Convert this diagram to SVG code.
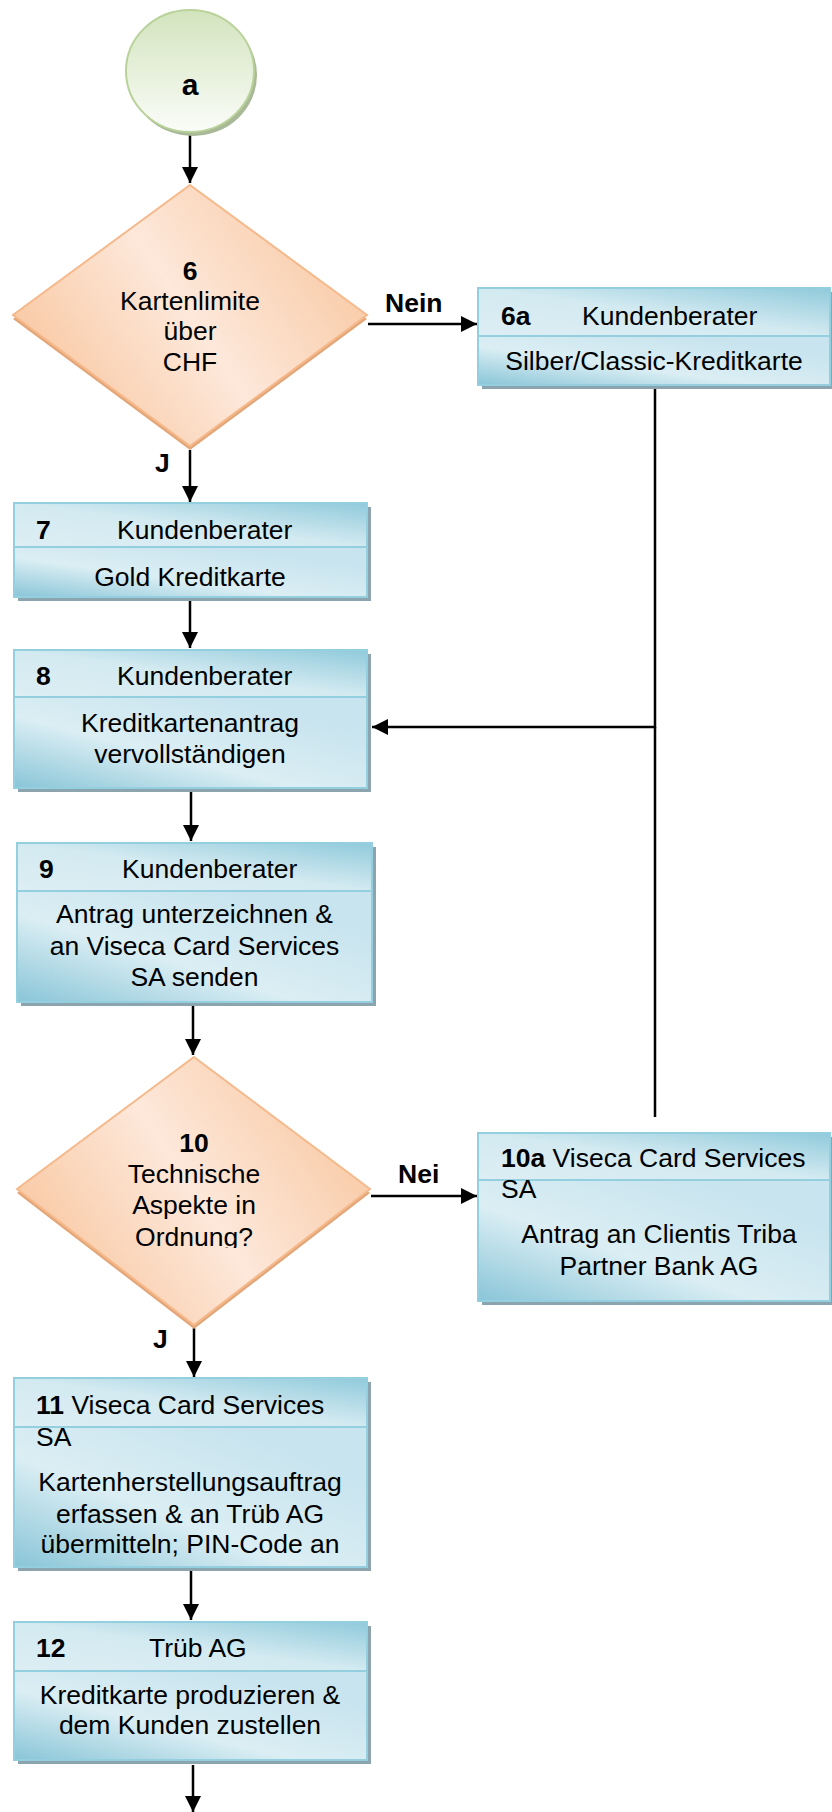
<svg xmlns="http://www.w3.org/2000/svg" width="832" height="1812" viewBox="0 0 832 1812">
<defs>
  <linearGradient id="gCircle" x1="0" y1="0" x2="0" y2="1">
    <stop offset="0" stop-color="#d2e4bd"/>
    <stop offset="1" stop-color="#fbfcf9"/>
  </linearGradient>
  <linearGradient id="gDiamond" x1="0" y1="0.75" x2="1" y2="0.25">
    <stop offset="0" stop-color="#f8c49b"/>
    <stop offset="0.5" stop-color="#fde8da"/>
    <stop offset="1" stop-color="#f8c7a0"/>
  </linearGradient>
  <linearGradient id="gHead" x1="0" y1="1" x2="1" y2="0">
    <stop offset="0" stop-color="#ddeef4"/>
    <stop offset="0.5" stop-color="#d3eaf1"/>
    <stop offset="1" stop-color="#90cadb"/>
  </linearGradient>
  <linearGradient id="gBody" x1="0" y1="1" x2="0.8" y2="0.2">
    <stop offset="0" stop-color="#89c5d7"/>
    <stop offset="0.5" stop-color="#dbeef4"/>
    <stop offset="1" stop-color="#c8e4ee"/>
  </linearGradient>
  <marker id="arr" markerUnits="userSpaceOnUse" markerWidth="16" markerHeight="16" refX="16" refY="8" orient="auto">
    <path d="M0,0 L16,8 L0,16 Z" fill="#000"/>
  </marker>
  <clipPath id="clip10">
    <rect x="60" y="1120" width="270" height="128"/>
  </clipPath>
</defs>
<style>
  text { font-family: "Liberation Sans", Arial, sans-serif; font-size: 26.5px; fill: #000; }
  .b { font-weight: bold; }
  .c { text-anchor: middle; }
  .big { font-size: 30px; }
  .shadow { fill: #8ca4ad; }
  .hd { fill: url(#gHead); stroke: #93cfdf; stroke-width: 2; }
  .bd { fill: url(#gBody); stroke: #93cfdf; stroke-width: 2; }
  .dia { fill: url(#gDiamond); stroke: #f5b98b; stroke-width: 2; }
  .diash { fill: #e3a678; }
  .conn { fill: none; stroke: #000; stroke-width: 2.5; }
</style>

<g id="connectors">
  <path class="conn" d="M190,134 V183" marker-end="url(#arr)"/>
  <path class="conn" d="M368,324 H477" marker-end="url(#arr)"/>
  <path class="conn" d="M190,450 V502" marker-end="url(#arr)"/>
  <path class="conn" d="M190,600 V648" marker-end="url(#arr)"/>
  <path class="conn" d="M655,389 V727 H372" marker-end="url(#arr)"/>
  <path class="conn" d="M655,1117 V727"/>
  <path class="conn" d="M191,791 V841" marker-end="url(#arr)"/>
  <path class="conn" d="M193,1005 V1055" marker-end="url(#arr)"/>
  <path class="conn" d="M371,1196 H477" marker-end="url(#arr)"/>
  <path class="conn" d="M194,1328 V1377" marker-end="url(#arr)"/>
  <path class="conn" d="M191,1571 V1620" marker-end="url(#arr)"/>
  <path class="conn" d="M193,1765 V1812" marker-end="url(#arr)"/>
  <text class="b" x="385" y="312">Nein</text>
  <text class="b" x="398" y="1183">Nei</text>
  <text class="b" x="155" y="472">J</text>
  <text class="b" x="153" y="1348">J</text>
</g>

<g id="node-a">
  <ellipse cx="193" cy="75" rx="64" ry="61" fill="#a9b997"/>
  <ellipse cx="190" cy="71" rx="64" ry="61" fill="url(#gCircle)" stroke="#b8d29a" stroke-width="2"/>
  <text class="b c big" x="190" y="95">a</text>
</g>

<g id="node-6">
  <polygon class="diash" points="190,189 367,319 190,450 13,319"/>
  <polygon class="dia" points="190,185 367,315 190,446 13,315"/>
  <text class="c" x="190" y="280"><tspan class="b">6</tspan></text>
  <text class="c" x="190" y="310">Kartenlimite</text>
  <text class="c" x="190" y="340">über</text>
  <text class="c" x="190" y="371">CHF</text>
</g>

<g id="node-6a">
  <rect class="shadow" x="482" y="292" width="352" height="97"/>
  <rect class="hd" x="478" y="288" width="352" height="48"/>
  <rect class="bd" x="478" y="336" width="352" height="49"/>
  <text class="b" x="501" y="325">6a</text>
  <text x="582" y="325">Kundenberater</text>
  <text class="c" x="654" y="370">Silber/Classic-Kreditkarte</text>
</g>

<g id="node-7">
  <rect class="shadow" x="18" y="507" width="353" height="94"/>
  <rect class="hd" x="14" y="503" width="353" height="44"/>
  <rect class="bd" x="14" y="547" width="353" height="50"/>
  <text class="b" x="36" y="539">7</text>
  <text x="117" y="539">Kundenberater</text>
  <text class="c" x="190" y="586">Gold Kreditkarte</text>
</g>

<g id="node-8">
  <rect class="shadow" x="18" y="654" width="353" height="138"/>
  <rect class="hd" x="14" y="650" width="353" height="47"/>
  <rect class="bd" x="14" y="697" width="353" height="91"/>
  <text class="b" x="36" y="685">8</text>
  <text x="117" y="685">Kundenberater</text>
  <text class="c" x="190" y="732">Kreditkartenantrag</text>
  <text class="c" x="190" y="763">vervollständigen</text>
</g>

<g id="node-9">
  <rect class="shadow" x="21" y="847" width="355" height="159"/>
  <rect class="hd" x="17" y="843" width="355" height="48"/>
  <rect class="bd" x="17" y="891" width="355" height="111"/>
  <text class="b" x="39" y="878">9</text>
  <text x="122" y="878">Kundenberater</text>
  <text class="c" x="194.5" y="923">Antrag unterzeichnen &amp;</text>
  <text class="c" x="194.5" y="955">an Viseca Card Services</text>
  <text class="c" x="194.5" y="986">SA senden</text>
</g>

<g id="node-10">
  <polygon class="diash" points="194,1061 370,1193 194,1329 17,1193"/>
  <polygon class="dia" points="194,1057 370,1189 194,1325 17,1189"/>
  <g clip-path="url(#clip10)">
    <text class="c b" x="194" y="1152">10</text>
    <text class="c" x="194" y="1183">Technische</text>
    <text class="c" x="194" y="1214">Aspekte in</text>
    <text class="c" x="194" y="1246">Ordnung?</text>
  </g>
</g>

<g id="node-10a">
  <rect class="shadow" x="482" y="1137" width="352" height="168"/>
  <rect class="hd" x="478" y="1133" width="352" height="47"/>
  <rect class="bd" x="478" y="1180" width="352" height="121"/>
  <text x="501" y="1167"><tspan class="b">10a</tspan> Viseca Card Services</text>
  <text x="501" y="1198">SA</text>
  <text class="c" x="659" y="1243">Antrag an Clientis Triba</text>
  <text class="c" x="659" y="1275">Partner Bank AG</text>
</g>

<g id="node-11">
  <rect class="shadow" x="18" y="1382" width="353" height="189"/>
  <rect class="hd" x="14" y="1378" width="353" height="49"/>
  <rect class="bd" x="14" y="1427" width="353" height="140"/>
  <text x="36" y="1414"><tspan class="b">11</tspan> Viseca Card Services</text>
  <text x="36" y="1446">SA</text>
  <text class="c" x="190" y="1491">Kartenherstellungsauftrag</text>
  <text class="c" x="190" y="1523">erfassen &amp; an Trüb AG</text>
  <text class="c" x="190" y="1553">übermitteln; PIN-Code an</text>
</g>

<g id="node-12">
  <rect class="shadow" x="18" y="1626" width="353" height="138"/>
  <rect class="hd" x="14" y="1622" width="353" height="49"/>
  <rect class="bd" x="14" y="1671" width="353" height="89"/>
  <text class="b" x="36" y="1657">12</text>
  <text x="149" y="1657">Trüb AG</text>
  <text class="c" x="190" y="1704">Kreditkarte produzieren &amp;</text>
  <text class="c" x="190" y="1734">dem Kunden zustellen</text>
</g>
</svg>
